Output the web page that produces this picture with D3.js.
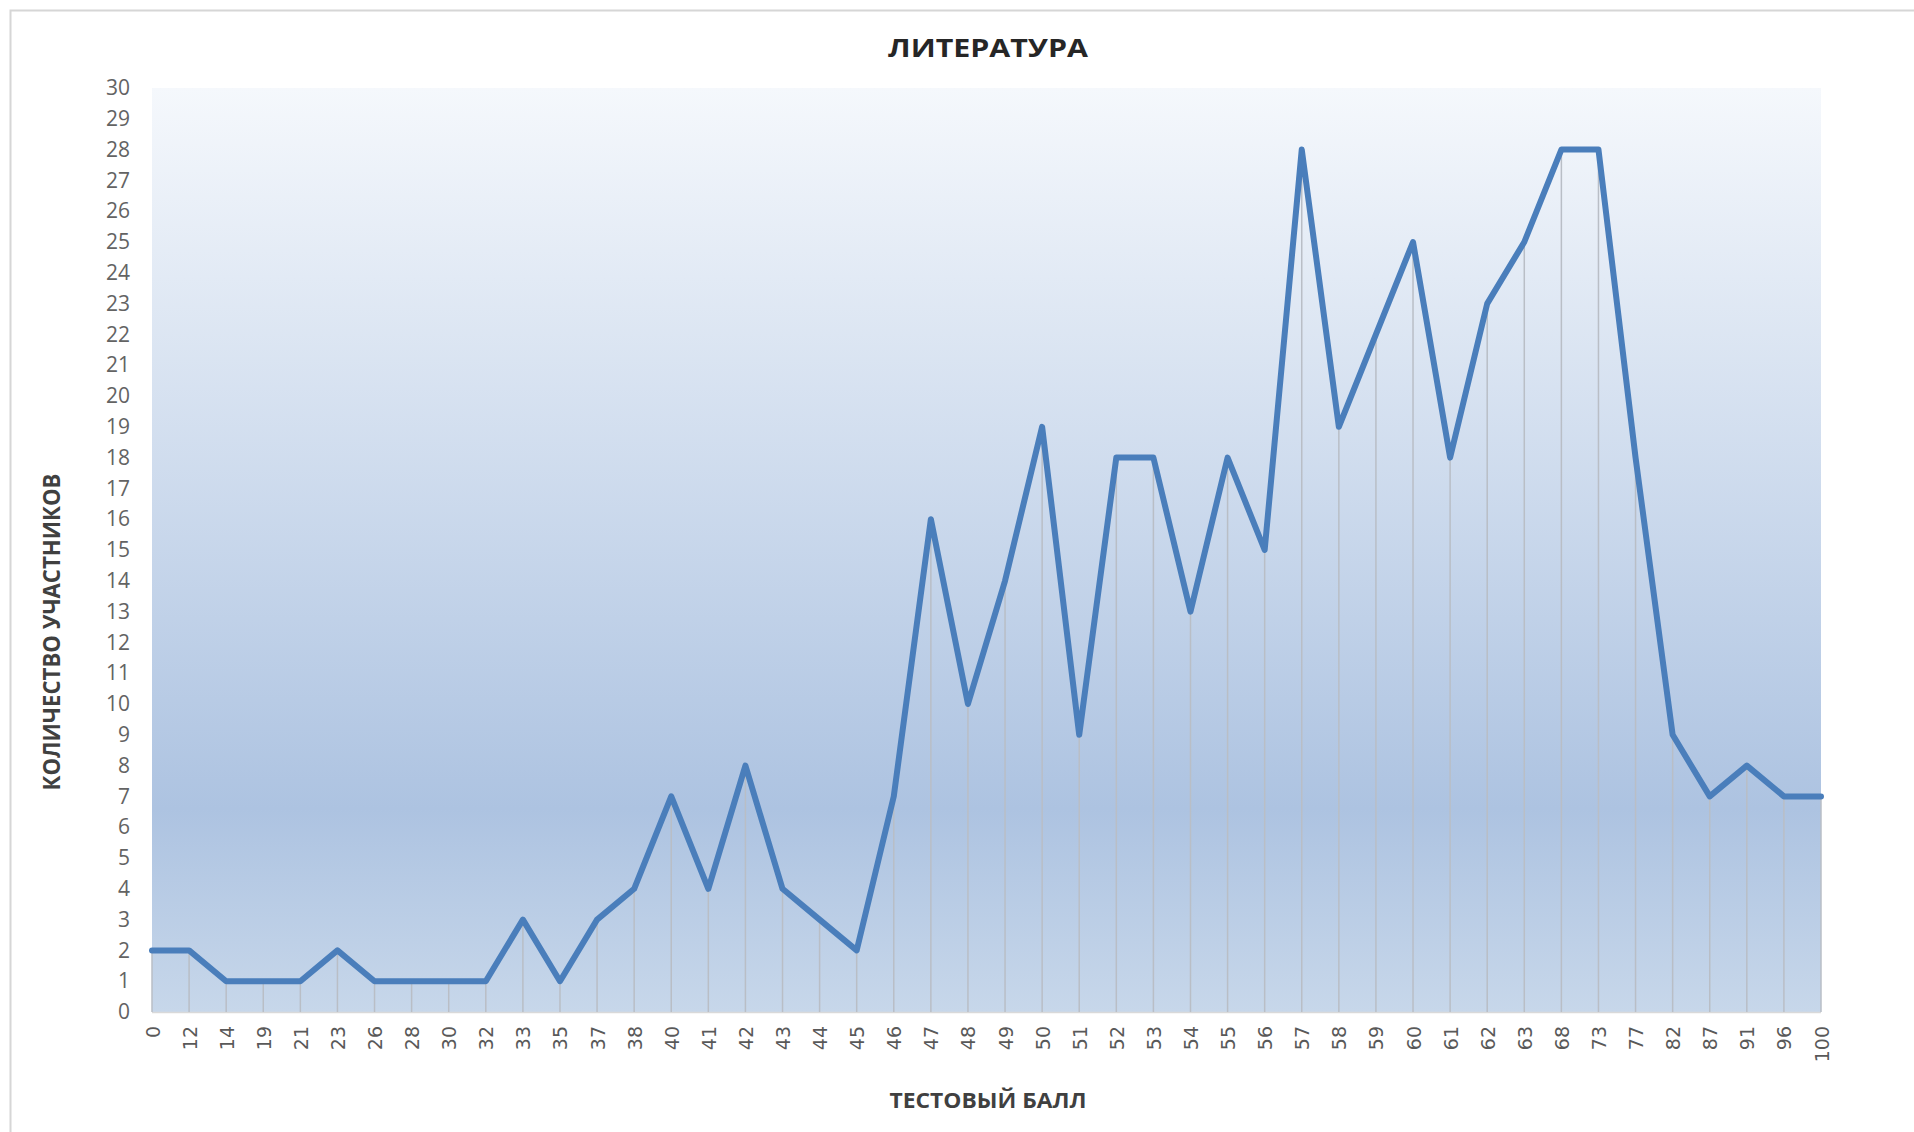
<!DOCTYPE html>
<html>
<head>
<meta charset="utf-8">
<script src="https://cdn.jsdelivr.net/npm/d3@7"></script>
<style>
  body { margin: 0; background: #fff; }
  svg { display: block; }
</style>
</head>
<body>
<script>
const scores = ["0","12","14","19","21","23","26","28","30","32","33","35","37","38","40","41","42","43","44","45",
  "46","47","48","49","50","51","52","53","54","55","56","57","58","59","60","61","62","63","68","73",
  "77","82","87","91","96","100"];
const counts = [2,2,1,1,1,2,1,1,1,1,3,1,3,4,7,4,8,4,3,2,
  7,16,10,14,19,9,18,18,13,18,15,28,19,22,25,18,23,25,28,28,
  18,9,7,8,7,7];
const yTicks = d3.range(0, 31);

const width = 1914, height = 1132;
const plot = {left: 152, right: 1821, top: 88, bottom: 1012};

const svg = d3.select("body").append("svg")
  .attr("width", width).attr("height", height);

// chart frame
svg.append("rect")
  .attr("x", 10.5).attr("y", 10.5)
  .attr("width", 1930).attr("height", 1150)
  .attr("fill", "#fff").attr("stroke", "#d6d6d6").attr("stroke-width", 2);

const x = d3.scalePoint().domain(scores).range([plot.left, plot.right]).padding(0);
const y = d3.scaleLinear().domain([0, 30]).range([plot.bottom, plot.top]);

const defs = svg.append("defs");
const grad = defs.append("linearGradient").attr("id", "bg")
  .attr("x1", 0).attr("y1", 0).attr("x2", 0).attr("y2", 1);
grad.append("stop").attr("offset", "0%").attr("stop-color", "#f5f8fc");
grad.append("stop").attr("offset", "78%").attr("stop-color", "#adc3e1");
grad.append("stop").attr("offset", "100%").attr("stop-color", "#c7d7ea");

svg.append("rect")
  .attr("x", plot.left).attr("y", plot.top)
  .attr("width", plot.right - plot.left).attr("height", plot.bottom - plot.top)
  .attr("fill", "url(#bg)");

// baseline
svg.append("line")
  .attr("x1", plot.left).attr("x2", plot.right)
  .attr("y1", plot.bottom + 0.5).attr("y2", plot.bottom + 0.5)
  .attr("stroke", "#d9d9d9").attr("stroke-width", 1.5);

// drop lines
svg.append("g").selectAll("line")
  .data(scores)
  .join("line")
  .attr("x1", d => x(d)).attr("x2", d => x(d))
  .attr("y1", (d, i) => y(counts[i])).attr("y2", plot.bottom)
  .attr("stroke", "#b9bec6").attr("stroke-width", 1.5);

// y axis labels
const yAxis = d3.axisLeft(y).tickValues(yTicks).tickSize(0).tickPadding(22);
const yg = svg.append("g").attr("transform", `translate(${plot.left},0)`).call(yAxis);
yg.select(".domain").remove();
yg.selectAll("text")
  .attr("font-family", "'Open Sans', sans-serif").attr("font-weight", 400)
  .attr("font-size", 21).attr("fill", "#636363");

// x axis labels
const xAxis = d3.axisBottom(x).tickSize(0).tickPadding(0);
const xg = svg.append("g").attr("transform", `translate(0,${plot.bottom})`).call(xAxis);
xg.select(".domain").remove();
xg.selectAll("text")
  .attr("font-family", "'DejaVu Sans', sans-serif")
  .attr("font-size", 19).attr("fill", "#595959")
  .attr("text-anchor", "end")
  .attr("dy", null).attr("y", null)
  .attr("transform", "translate(7,14) rotate(-90)");

// line
const line = d3.line()
  .x((d, i) => x(scores[i]))
  .y(d => y(d));
svg.append("path")
  .attr("d", line(counts))
  .attr("fill", "none")
  .attr("stroke", "#4a7ebb").attr("stroke-width", 6)
  .attr("stroke-linejoin", "round").attr("stroke-linecap", "round");

// titles
svg.append("text")
  .attr("x", 988).attr("y", 57)
  .attr("text-anchor", "middle")
  .attr("font-family", "'Open Sans', sans-serif").attr("font-weight", 700)
  .attr("font-size", 25).attr("fill", "#262626")
  .attr("textLength", 200).attr("lengthAdjust", "spacingAndGlyphs")
  .text("ЛИТЕРАТУРА");

svg.append("text")
  .attr("x", 988).attr("y", 1108)
  .attr("text-anchor", "middle")
  .attr("font-family", "'Open Sans', sans-serif").attr("font-weight", 700)
  .attr("font-size", 22).attr("fill", "#404040")
  .attr("textLength", 197).attr("lengthAdjust", "spacingAndGlyphs")
  .text("ТЕСТОВЫЙ БАЛЛ");

svg.append("text")
  .attr("transform", "translate(60,632) rotate(-90)")
  .attr("text-anchor", "middle")
  .attr("font-family", "'Open Sans', sans-serif").attr("font-weight", 700)
  .attr("font-size", 24).attr("fill", "#404040")
  .attr("textLength", 317).attr("lengthAdjust", "spacingAndGlyphs")
  .text("КОЛИЧЕСТВО УЧАСТНИКОВ");
</script>
</body>
</html>
